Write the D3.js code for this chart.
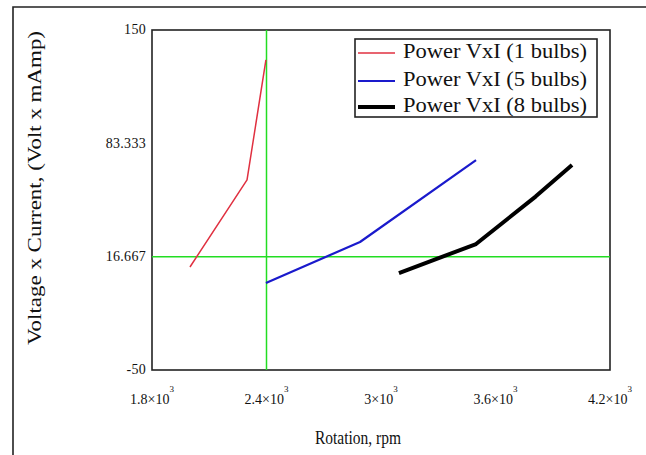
<!DOCTYPE html>
<html>
<head>
<meta charset="utf-8">
<script src="https://cdn.jsdelivr.net/npm/d3@7"></script>
<style>
  html, body { margin: 0; padding: 0; background: #fff; }
  svg { display: block; }
  text { font-family: "Liberation Serif", "DejaVu Serif", serif; fill: #111; }
</style>
</head>
<body>
<svg id="chart" width="646" height="455"></svg>
<script>
// ---- data ----
const seriesNames = ["Power VxI (1 bulbs)", "Power VxI (5 bulbs)", "Power VxI (8 bulbs)"];
const rpm1 = [1999, 2298, 2397];
const power1 = [10.6, 61.8, 132.4];
const rpm5 = [2397, 2890, 3498];
const power5 = [1.2, 25.3, 73.5];
const rpm8 = [3094, 3498, 3810, 4001];
const power8 = [7.0, 24.1, 52.0, 70.6];
const xTicks = [1800, 2400, 3000, 3600, 4200];
const xTickMantissa = ["1.8", "2.4", "3", "3.6", "4.2"];
const yTicks = [150, 83.333, 16.667, -50];
const yTickLabels = ["150", "83.333", "16.667", "-50"];
const markerX = 2400;
const markerY = 16.667;

// ---- layout ----
const svg = d3.select("#chart");
const plot = { left: 152, top: 30, right: 610, bottom: 370 };
const x = d3.scaleLinear().domain([1800, 4200]).range([plot.left, plot.right]);
const y = d3.scaleLinear().domain([-50, 150]).range([plot.bottom, plot.top]);

// outer frame (top & left edges)
svg.append("path")
  .attr("d", "M13,455 L13,7 L646,7")
  .attr("fill", "none").attr("stroke", "#222").attr("stroke-width", 1.6);

// plot frame
svg.append("rect")
  .attr("x", plot.left).attr("y", plot.top)
  .attr("width", plot.right - plot.left).attr("height", plot.bottom - plot.top)
  .attr("fill", "#fff").attr("stroke", "#222").attr("stroke-width", 1.6);

// green marker lines
svg.append("line")
  .attr("x1", x(markerX)).attr("x2", x(markerX))
  .attr("y1", plot.top).attr("y2", plot.bottom)
  .attr("stroke", "#22dd22").attr("stroke-width", 1.5);
svg.append("line")
  .attr("x1", plot.left).attr("x2", plot.right)
  .attr("y1", y(markerY)).attr("y2", y(markerY))
  .attr("stroke", "#22dd22").attr("stroke-width", 1.5);

// series
const series = [
  { xs: rpm1, ys: power1, color: "#e03040", width: 1.5 },
  { xs: rpm5, ys: power5, color: "#1a1acc", width: 2.2 },
  { xs: rpm8, ys: power8, color: "#000000", width: 4 }
];
const line = d3.line().x(d => x(d[0])).y(d => y(d[1]));
series.forEach(s => {
  svg.append("path")
    .datum(s.xs.map((v, i) => [v, s.ys[i]]))
    .attr("d", line)
    .attr("fill", "none")
    .attr("stroke", s.color)
    .attr("stroke-width", s.width)
    .attr("stroke-linejoin", "round");
});

// y tick labels
yTicks.forEach((v, i) => {
  svg.append("text")
    .attr("x", plot.left - 6)
    .attr("y", y(v) + 1)
    .attr("text-anchor", "end")
    .attr("dominant-baseline", "middle")
    .attr("font-size", 14)
    .attr("letter-spacing", 0.3)
    .text(yTickLabels[i]);
});

// x tick labels (mantissa × 10^3)
xTicks.forEach((v, i) => {
  const t = svg.append("text")
    .attr("x", x(v))
    .attr("y", 404)
    .attr("text-anchor", "middle")
    .attr("font-size", 14);
  t.append("tspan").text(xTickMantissa[i] + "\u00d710");
  t.append("tspan").attr("font-size", 9).attr("dy", -12).text("3");
});

// axis titles
svg.append("text")
  .attr("x", (plot.left + plot.right) / 2 - 23)
  .attr("y", 444)
  .attr("text-anchor", "middle")
  .attr("font-size", 18)
  .attr("textLength", 86)
  .attr("lengthAdjust", "spacingAndGlyphs")
  .text("Rotation, rpm");

svg.append("text")
  .attr("transform", "translate(41,188) rotate(-90)")
  .attr("text-anchor", "middle")
  .attr("font-size", 19)
  .attr("textLength", 314)
  .attr("lengthAdjust", "spacingAndGlyphs")
  .text("Voltage x Current, (Volt x mAmp)");

// legend
const lg = { x: 355, y: 39, w: 242, h: 78 };
svg.append("rect")
  .attr("x", lg.x).attr("y", lg.y).attr("width", lg.w).attr("height", lg.h)
  .attr("fill", "#fff").attr("stroke", "#222").attr("stroke-width", 1.6);
const rowY = [53, 81, 107];
seriesNames.forEach((name, i) => {
  svg.append("line")
    .attr("x1", lg.x + 3).attr("x2", lg.x + 40)
    .attr("y1", rowY[i]).attr("y2", rowY[i])
    .attr("stroke", series[i].color).attr("stroke-width", series[i].width);
  svg.append("text")
    .attr("x", lg.x + 48)
    .attr("y", rowY[i])
    .attr("dominant-baseline", "middle")
    .attr("font-size", 20)
    .attr("textLength", 184)
    .attr("lengthAdjust", "spacingAndGlyphs")
    .text(name);
});
</script>
</body>
</html>
